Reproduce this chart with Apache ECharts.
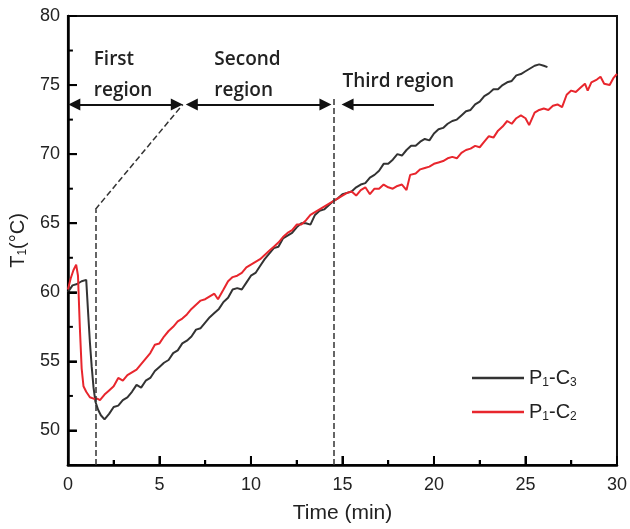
<!DOCTYPE html>
<html><head><meta charset="utf-8">
<script src="https://cdn.jsdelivr.net/npm/echarts@6/dist/echarts.min.js"></script>
<style>html,body{margin:0;padding:0;background:#fff}#c{width:630px;height:529px}</style>
</head><body><div id="c"></div>
<script>
// ---- data ----
const timeC3 = [0,0.25,0.5,0.75,1.0,1.1,1.2,1.3,1.4,1.5,1.65,1.8,2.0,2.25,2.5,2.75,3.0,3.25,3.5,3.75,4.0,4.25,4.5,4.75,5.0,5.25,5.5,5.75,6.0,6.25,6.5,6.75,7.0,7.25,7.5,7.75,8.0,8.25,8.5,8.75,9.0,9.25,9.5,9.75,10.0,10.25,10.5,10.75,11.0,11.25,11.5,11.75,12.0,12.25,12.5,12.75,13.0,13.25,13.5,13.75,14.0,14.25,14.5,14.75,15.0,15.25,15.5,15.75,16.0,16.25,16.5,16.75,17.0,17.25,17.5,17.75,18.0,18.25,18.5,18.75,19.0,19.25,19.5,19.75,20.0,20.25,20.5,20.75,21.0,21.25,21.5,21.75,22.0,22.25,22.5,22.75,23.0,23.25,23.5,23.75,24.0,24.25,24.5,24.75,25.0,25.25,25.5,25.75,26.0,26.2];
const tempC3 = [60.0,60.5,60.6,60.8,60.9,58.6,56.4,54.6,53.1,52.1,51.5,51.1,50.8,51.2,51.7,51.8,52.2,52.4,52.8,53.3,53.1,53.6,53.8,54.3,54.6,54.9,55.1,55.6,55.8,56.3,56.5,56.8,57.3,57.4,57.8,58.2,58.5,58.8,59.3,59.6,60.2,60.3,60.2,60.7,61.2,61.4,61.9,62.4,62.8,63.2,63.3,63.9,64.1,64.3,64.7,65.0,65.0,64.9,65.6,65.9,66.0,66.3,66.6,66.8,67.1,67.2,67.3,67.6,67.8,67.9,68.3,68.5,68.8,69.3,69.3,69.6,70.0,69.9,70.3,70.6,70.6,70.9,71.1,71.0,71.5,71.8,71.9,72.2,72.4,72.5,72.8,73.1,73.2,73.6,73.8,74.2,74.4,74.7,74.7,75.0,75.2,75.3,75.7,75.8,76.0,76.2,76.4,76.5,76.4,76.3];
const timeC2 = [0,0.15,0.3,0.45,0.55,0.65,0.75,0.85,1.0,1.2,1.4,1.6,1.75,2.0,2.25,2.5,2.75,3.0,3.25,3.5,3.75,4.0,4.25,4.5,4.75,5.0,5.25,5.5,5.75,6.0,6.25,6.5,6.75,7.0,7.25,7.5,7.75,8.0,8.2,8.5,8.75,9.0,9.25,9.5,9.75,10.0,10.25,10.5,10.75,11.0,11.25,11.5,11.75,12.0,12.25,12.5,12.75,13.0,13.25,13.5,13.75,14.0,14.25,14.5,14.75,15.0,15.25,15.5,15.75,16.0,16.25,16.5,16.75,17.0,17.25,17.5,17.75,18.0,18.25,18.5,18.7,19.0,19.25,19.5,19.75,20.0,20.25,20.5,20.75,21.0,21.25,21.5,21.75,22.0,22.25,22.5,22.75,23.0,23.25,23.5,23.75,24.0,24.25,24.5,24.75,25.0,25.2,25.5,25.75,26.0,26.25,26.5,26.75,27.0,27.25,27.5,27.75,28.0,28.25,28.4,28.6,28.9,29.1,29.3,29.6,29.8,30.0];
const tempC2 = [60.2,61.0,61.6,62.0,61.2,57.5,54.5,53.2,52.8,52.4,52.3,52.3,52.2,52.6,52.9,53.2,53.8,53.6,54.0,54.2,54.4,54.8,55.2,55.6,56.2,56.3,56.8,57.2,57.5,57.9,58.1,58.4,58.8,59.1,59.4,59.5,59.7,59.9,59.5,60.2,60.8,61.1,61.2,61.4,61.8,62.0,62.2,62.4,62.7,63.0,63.3,63.6,64.0,64.3,64.5,64.9,64.9,65.2,65.6,65.8,66.0,66.2,66.4,66.6,66.8,67.0,67.2,67.3,67.0,67.4,67.6,67.1,67.5,67.5,67.8,67.6,67.5,67.7,67.8,67.4,68.5,68.6,68.9,69.0,69.1,69.3,69.4,69.5,69.7,69.8,69.7,70.1,70.3,70.4,70.6,70.5,70.9,71.3,71.2,71.7,72.0,72.4,72.2,72.6,72.8,72.6,72.1,73.0,73.2,73.3,73.2,73.5,73.6,73.4,74.3,74.6,74.5,74.8,75.1,74.6,75.2,75.4,75.6,75.1,75.0,75.5,75.8];

const seriesNames = ['P1-C3', 'P1-C2'];
const xMajorTicks = [5, 10, 15, 20, 25];
const xMinorTicks = [2.5, 7.5, 12.5, 17.5, 22.5, 27.5];
const yLabelValues = [50, 55, 60, 65, 70, 75, 80];
const yMajorTicks = [50, 55, 60, 65, 70, 75];
const yMinorTicks = [52.5, 57.5, 62.5, 67.5, 72.5, 77.5];

// region annotations (data coordinates)
const boundaryTimes = [1.5, 14.5];
const boundaryTop = [66, 74.2];
const arrowLevel = 73.6;
const arrowSpans = [[0.35, 5.95], [6.77, 14.07], [15.28, 20.0]];
const diagonalEnd = [6.28, 73.6];
const regionTexts = ['First\nregion', 'Second\nregion', 'Third region'];
const regionTextPos = [[1.41, 75.75], [8.0, 75.75], [15.0, 75.25]];

const xMin = 0, xMax = 30, yMin = 47.5, yMax = 80;

const chart = echarts.init(document.getElementById('c'), null, {renderer: 'canvas'});
const zip = (a, b) => a.map((v, i) => [v, b[i]]);

const subRich = {
  a: {fontSize: 20, fontFamily: 'Liberation Sans', color: '#222', lineHeight: 22},
  s: {fontSize: 12, fontFamily: 'Liberation Sans', color: '#222', lineHeight: 2, verticalAlign: 'bottom'}
};
const legendText = {'P1-C3': '{a|P}{s|1}{a|-C}{s|3}', 'P1-C2': '{a|P}{s|1}{a|-C}{s|2}'};

const dashStyle = {type: 'dashed', color: '#333', width: 1.5};
const arrowStyle = {type: 'solid', color: '#111', width: 2};
const TICK_MAJOR = 9, TICK_MINOR = 5;
const TICK_COLOR = '#000';

const option = {
  animation: false,
  grid: {left: 66, right: 10, top: 16, bottom: 58, show: true, borderColor: '#111', borderWidth: 2},
  legend: {
    data: seriesNames.map(n => ({name: n, icon: 'rect'})),
    orient: 'vertical',
    left: 467, top: 363,
    itemWidth: 52, itemHeight: 2.5, itemGap: 13,
    formatter: n => legendText[n],
    textStyle: {rich: subRich},
    selectedMode: false
  },
  xAxis: {
    type: 'value', min: xMin, max: xMax, interval: 5,
    name: 'Time (min)', nameLocation: 'middle', nameGap: 38,
    nameTextStyle: {fontSize: 21, fontFamily: 'Liberation Sans', color: '#222'},
    axisLine: {show: true, lineStyle: {color: '#000', width: 2.5}},
    axisTick: {show: true, inside: true, length: TICK_MAJOR, lineStyle: {color: TICK_COLOR, width: 2}},
    minorTick: {show: true, splitNumber: 2, length: TICK_MINOR, lineStyle: {color: TICK_COLOR, width: 2}},
    axisLabel: {fontSize: 18, fontFamily: 'Liberation Sans', color: '#222', margin: 11},
    splitLine: {show: false}
  },
  yAxis: {
    type: 'value', min: yMin, max: yMax,
    name: '{a|T}{s|1}{a|(°C)}', nameLocation: 'middle', nameGap: 38, nameRotate: 90,
    nameTextStyle: {rich: subRich},
    axisLine: {show: true, lineStyle: {color: '#000', width: 2.5}},
    axisTick: {show: true, inside: true, length: TICK_MAJOR, lineStyle: {color: TICK_COLOR, width: 2}},
    axisLabel: {fontSize: 18, fontFamily: 'Liberation Sans', color: '#222', margin: 8, customValues: yLabelValues},
    splitLine: {show: false}
  },
  series: [{
    name: 'P1-C3', type: 'line', data: zip(timeC3, tempC3),
    showSymbol: false, symbol: 'none',
    lineStyle: {color: '#333333', width: 2}, itemStyle: {color: '#333333'},
    markLine: {
      silent: true, symbol: 'none', label: {show: false},
      data: [
        [{coord: [boundaryTimes[0], yMin], lineStyle: dashStyle}, {coord: [boundaryTimes[0], boundaryTop[0]]}],
        [{coord: [boundaryTimes[0], boundaryTop[0]], lineStyle: dashStyle}, {coord: diagonalEnd}],
        [{coord: [boundaryTimes[1], yMin], lineStyle: dashStyle}, {coord: [boundaryTimes[1], boundaryTop[1]]}]
      ]
    }
  }, {
    name: 'P1-C2', type: 'line', data: zip(timeC2, tempC2),
    showSymbol: false, symbol: 'none',
    lineStyle: {color: '#e8262d', width: 2}, itemStyle: {color: '#e8262d'},
    markLine: {
      silent: true, symbolSize: 12, label: {show: false},
      data: [
        [{coord: [arrowSpans[0][0], arrowLevel], symbol: 'triangle', lineStyle: arrowStyle, itemStyle: {color: '#111'}}, {coord: [arrowSpans[0][1], arrowLevel], symbol: 'triangle'}],
        [{coord: [arrowSpans[1][0], arrowLevel], symbol: 'triangle', lineStyle: arrowStyle, itemStyle: {color: '#111'}}, {coord: [arrowSpans[1][1], arrowLevel], symbol: 'triangle'}],
        [{coord: [arrowSpans[2][0], arrowLevel], symbol: 'triangle', lineStyle: arrowStyle, itemStyle: {color: '#111'}}, {coord: [arrowSpans[2][1], arrowLevel], symbol: 'none'}]
      ]
    },
    markPoint: {
      silent: true, symbol: 'circle', symbolSize: 1,
      itemStyle: {color: 'rgba(0,0,0,0)'},
      label: {show: true, position: 'inside', align: 'left', verticalAlign: 'middle',
        fontFamily: 'Open Sans', fontWeight: 600, fontSize: 19, lineHeight: 31, color: '#222'},
      data: regionTexts.map((t, i) => ({coord: regionTextPos[i], value: t, label: {formatter: t}}))
    }
  }]
};
chart.setOption(option);

// Tick marks placed through the chart's own coordinate conversion (includes y minor ticks)
const toPx = v => chart.convertToPixel({gridIndex: 0}, v);
const tickLines = [];
const addX = (vals, len) => vals.forEach(v => { const p = toPx([v, yMin]); tickLines.push({x1: p[0], y1: p[1], x2: p[0], y2: p[1] - len}); });
const addY = (vals, len) => vals.forEach(v => { const p = toPx([xMin, v]); tickLines.push({x1: p[0], y1: p[1], x2: p[0] + len, y2: p[1]}); });
addX(xMajorTicks, TICK_MAJOR); addX(xMinorTicks, TICK_MINOR);
addY(yMajorTicks, TICK_MAJOR); addY(yMinorTicks, TICK_MINOR);
chart.setOption({
  graphic: tickLines.map(s => ({type: 'line', shape: s, silent: true, z: 100,
    style: {stroke: TICK_COLOR, lineWidth: 2}}))
});
</script>
</body></html>
